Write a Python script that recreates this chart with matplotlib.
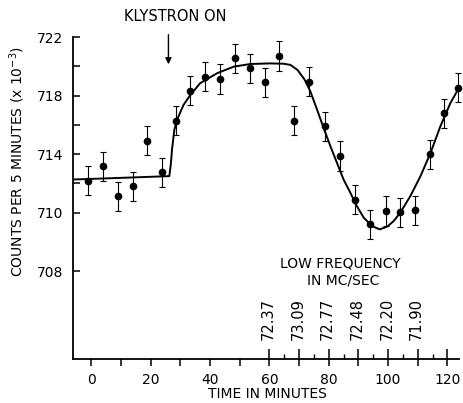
import numpy as np
import matplotlib
matplotlib.use("Agg")
import matplotlib.pyplot as plt

plt.rcParams['font.family'] = ['DejaVu Sans']

# measured counts (x 10^-3) every ~5 minutes
pt_time = [-1.2, 3.8, 8.9, 13.9, 18.8, 23.8, 28.6, 33.4, 38.4, 43.4, 48.3, 53.4, 58.4,
           63.2, 68.4, 73.5, 78.8, 83.9, 89.0, 94.0, 99.2, 104.0, 109.1, 114.2, 118.7, 123.6]
pt_counts = [712.2, 713.17, 711.13, 711.8, 714.92, 712.76, 716.3, 718.33, 719.3, 719.14,
             720.55, 719.86, 718.9, 720.7, 716.29, 718.96, 715.9, 713.87, 710.9, 709.2,
             710.12, 710.02, 710.16, 714.0, 716.8, 718.55]
pt_err = [1.0] * len(pt_time)

# smooth curve
curve_time = [-6.0, 10.0, 26.3, 26.8, 27.2, 28.0, 28.9, 31.1, 33.4, 36.7, 42.4, 48.0, 53.6,
              60.0, 64.8, 67.1, 69.5, 71.8, 73.8, 76.1, 78.3, 80.6, 82.8, 85.0, 87.3, 89.5,
              91.8, 94.6, 97.2, 99.7, 101.9, 104.1, 107.5, 110.9, 114.3, 117.6, 121.0, 123.8]
curve_counts = [712.27, 712.38, 712.5, 713.3, 714.3, 715.67, 716.35, 717.37, 718.05, 718.85,
                719.53, 719.98, 720.16, 720.2, 720.18, 720.1, 719.75, 719.12, 718.3, 717.03,
                715.78, 714.53, 713.4, 712.27, 711.36, 710.45, 709.66, 709.09, 708.86,
                709.05, 709.43, 710.0, 711.13, 712.49, 714.08, 715.89, 717.49, 718.5]

klystron_on = 26.0

# low frequency scale (MC/SEC) marked on the time axis
freq_time = [60, 70, 80, 90, 100, 110]
freq_labels = ["72.37", "73.09", "72.77", "72.48", "72.20", "71.90"]
freq_minor = [65, 75, 85, 95, 105, 115]

xtick_pos = [0, 20, 40, 60, 80, 100, 120]
xtick_minor = [10, 30, 50]
ytick_pos = [722, 718, 714, 710, 706]
ytick_labels = ["722", "718", "714", "710", "708"]
ytick_minor = [720, 716, 712]

fig = plt.figure(figsize=(4.63, 4.03), dpi=100)
ax = fig.add_axes([0.158, 0.109, 0.834, 0.799])

ax.plot(curve_time, curve_counts, color='black', lw=1.4, zorder=2)
ax.errorbar(pt_time, pt_counts, yerr=pt_err, fmt='o', color='black', ms=4.5,
            elinewidth=0.8, capsize=2.3, capthick=0.8, zorder=3, clip_on=False)

ax.set_xlim(-6.1, 124.0)
ax.set_ylim(700, 722)

for s in ['top', 'right']:
    ax.spines[s].set_visible(False)
for s in ['left', 'bottom']:
    ax.spines[s].set_linewidth(1.3)

ax.set_yticks(ytick_pos)
ax.set_yticklabels(ytick_labels)
ax.set_yticks(ytick_minor, minor=True)
ax.tick_params(axis='y', which='both', direction='in', length=5, width=1.1,
               labelsize=10, pad=7)

ax.set_xticks(xtick_pos)
ax.set_xticks(xtick_minor + freq_time[1::2], minor=True)
ax.tick_params(axis='x', which='both', direction='out', length=5, width=1.1,
               labelsize=10, pad=5)

# upward ticks for the frequency scale
xt = ax.get_xaxis_transform()
ax.vlines(freq_time + [120], 0, 0.032, transform=xt, color='black', lw=1.1, clip_on=False)
ax.vlines(freq_minor, 0, 0.016, transform=xt, color='black', lw=1.0, clip_on=False)
for t, lab in zip(freq_time, freq_labels):
    ax.text(t - 0.4, 0.058, lab, transform=xt, rotation=90, ha='center', va='bottom',
            fontsize=10.5)
ax.text(84.0, 0.298, "LOW FREQUENCY", transform=xt, ha='center', va='center', fontsize=10)
ax.text(85.0, 0.245, "IN MC/SEC", transform=xt, ha='center', va='center', fontsize=10)

# klystron arrow
ax.annotate("", xy=(klystron_on, 719.95), xytext=(klystron_on, 722.35),
            arrowprops=dict(arrowstyle='-|>', color='black', lw=1.0, mutation_scale=9),
            annotation_clip=False)
fig.text(0.378, 0.96, "KLYSTRON ON", ha='center', va='center', fontsize=10.5)

fig.text(0.037, 0.60, "COUNTS PER 5 MINUTES (x 10$^{-3}$)", rotation=90,
         ha='center', va='center', fontsize=10)
fig.text(0.577, 0.022, "TIME IN MINUTES", ha='center', va='center', fontsize=10)

fig.savefig("out.png", dpi=100)
